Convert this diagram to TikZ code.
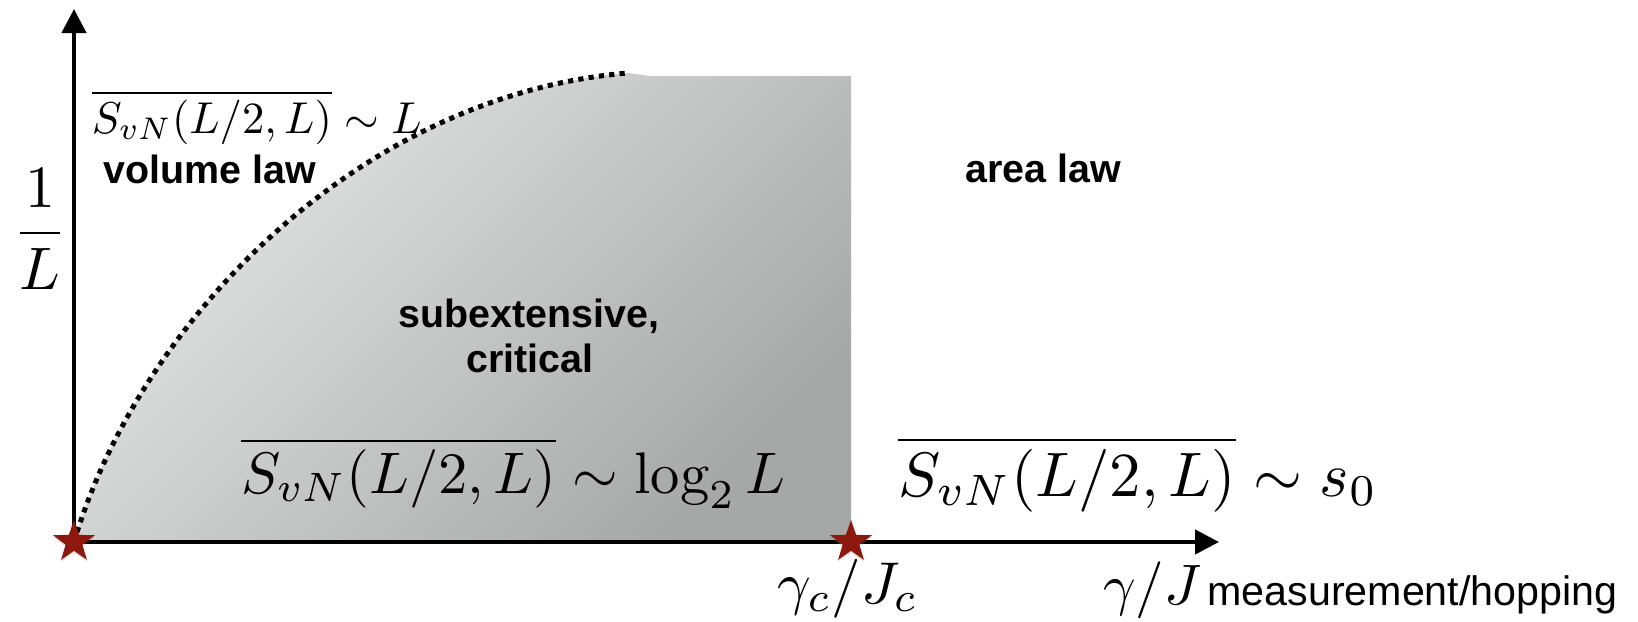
\documentclass[tikz,border=0pt]{standalone}
\usepackage{fontspec}
\newfontfamily\helv{Liberation Sans}
\usetikzlibrary{arrows.meta,shapes.geometric,shadows}
\definecolor{starred}{RGB}{140,24,14}
\definecolor{shadelight}{RGB}{230,231,231}
\definecolor{shadedark}{RGB}{166,167,167}
\begin{document}
\begin{tikzpicture}[x=0.5pt,y=-0.5pt,
  axis/.style={line width=2.2pt,-{Triangle[length=12pt,width=12pt]}},
  phaseline/.style={line width=2.5pt,dash pattern=on 2.6pt off 2.6pt},
  mathlbl/.style={inner sep=0pt,anchor=base west},
  boldlbl/.style={inner sep=0pt,anchor=base west,font=\helv\bfseries\fontsize{19.7}{23}\selectfont},
  plainlbl/.style={inner sep=0pt,anchor=base west,font=\helv\fontsize{20.6}{24}\selectfont},
  crit/.style={star,star points=5,star point ratio=2.5,minimum size=22pt,inner sep=0pt,
    fill=starred,draw=none,drop shadow={shadow xshift=0pt,shadow yshift=-1pt,opacity=0.25}}]
\useasboundingbox (0,0) rectangle (1638,621);
\coordinate (O) at (74,542);
\coordinate (C) at (851,542);
\coordinate (ybot) at (74,544);
\coordinate (xleft) at (72,542);
\coordinate (ytip) at (74,9);
\coordinate (xtip) at (1219,542);
\coordinate (ctop) at (628,73);
\coordinate (gbend) at (650,76);
\coordinate (gcorner) at (851,76);
% critical region
\shade[top color=shadelight,bottom color=shadedark,shading angle=45]
  (O) .. controls (140,320) and (360,95) .. (ctop) -- (gbend) -- (gcorner) -- (C) -- cycle;
% phase boundary
\draw[phaseline] (O) .. controls (140,320) and (360,95) .. (ctop);
% axes
\draw[axis] (xleft) -- (xtip);
\draw[axis] (ybot) -- (ytip);
% critical points
\node[crit] (s1) at (O) {};
\node[crit] (s2) at (C) {};
% labels
\node[inner sep=0pt,anchor=base,scale=3] (ylab) at (40,248) {$\displaystyle\frac{1}{L}$};
\node[mathlbl,scale=2.23] (vollawf) at (91,133) {$\overline{S_{vN}(L/2,L)}\sim L$};
\node[boldlbl] (vollaw) at (103,183) {volume law};
\node[boldlbl] (arealaw) at (965,182) {area law};
\node[boldlbl,anchor=base] (subext) at (529,327) {subextensive,};
\node[boldlbl,anchor=base] (critic) at (530,372) {critical};
\node[mathlbl,scale=2.93] (critlawf) at (240,493) {$\overline{S_{vN}(L/2,L)}\sim\log_2 L$};
\node[mathlbl,scale=3.14] (arealawf) at (897,496) {$\overline{S_{vN}(L/2,L)}\sim s_0$};
\node[mathlbl,scale=2.95] (gc) at (776,603) {$\gamma_c/J_c$};
\node[mathlbl,scale=2.85] (gj) at (1102,604) {$\gamma/J$};
\node[plainlbl] (meas) at (1207,605) {measurement/hopping};
\end{tikzpicture}
\end{document}
